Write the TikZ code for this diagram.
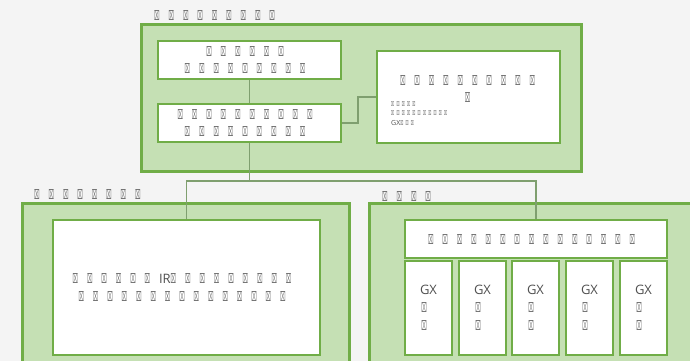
\documentclass[tikz,border=0pt]{standalone}
\usepackage{fontspec}
\usepackage{graphicx}
\setmainfont{Open Sans}
\newfontfamily\djv{DejaVu Sans}
\definecolor{bgc}{HTML}{F4F4F4}
\definecolor{gfill}{HTML}{C5E0B4}
\definecolor{gline}{HTML}{70AD47}
\definecolor{cline}{HTML}{7F9F6F}
\definecolor{txt}{HTML}{505050}
\definecolor{tofu}{HTML}{707070}
\newcommand\tq{\makebox[14.4pt][l]{\raisebox{-0.5pt}{\textcolor{tofu}{\resizebox{5.5pt}{10pt}{\djv ⌧}}}}}
\newcommand\tqs{\makebox[5.3pt][l]{\textcolor{tofu}{\resizebox{3pt}{5pt}{\djv ⌧}}}}
\ExplSyntaxOn
\NewDocumentCommand\tqn{m}{\prg_replicate:nn{#1}{\tq}}
\NewDocumentCommand\tqsn{m}{\prg_replicate:nn{#1}{\tqs}}
\ExplSyntaxOff
\tikzset{
  container/.style={draw=gline,line width=3pt,fill=gfill,rectangle,inner sep=0pt},
  inbox/.style={draw=gline,line width=2pt,fill=white,rectangle,inner sep=0pt,align=center,text=txt,font=\fontsize{13}{17.5}\selectfont},
  title/.style={anchor=west,inner sep=0pt,text=txt,font=\fontsize{13}{15}\selectfont},
  conn/.style={draw=cline,line width=1.2pt},
}
\begin{document}
\begin{tikzpicture}[x=1pt,y=-1pt]
\useasboundingbox (0,0) rectangle (690,361);
\fill[bgc] (0,0) rectangle (690,361);
\clip (0,0) rectangle (690,361);
% containers
\node[container,minimum width=440pt,minimum height=146pt] (top) at (361,98) {};
\node[container,minimum width=327pt,minimum height=197pt] (left) at (185.5,301.5) {};
\node[container,minimum width=351pt,minimum height=197pt] (right) at (544.5,301.5) {};
% titles
\node[title] (ttop) at (154,16) {\tqn{9}};
\node[title] (tleft) at (34,194) {\tqn{8}};
\node[title] (tright) at (382,196) {\tqn{4}};
% top boxes
\node[inbox,minimum width=183pt,minimum height=38pt] (a) at (249.5,60) {\tqn{6}\\\tqn{9}};
\node[inbox,minimum width=183pt,minimum height=38pt] (b) at (249.5,123) {\tqn{10}\\\tqn{9}};
\node[inbox,minimum width=183pt,minimum height=92pt] (c) at (468.5,97) {};
\node[align=center,text=txt,font=\fontsize{13}{17.5}\selectfont,inner sep=0pt] (ctext) at (472,89) {\tqn{10}\\\tq};
\node[anchor=north west,align=left,text=txt,font=\fontsize{7}{9.5}\selectfont,inner sep=0pt] (csmall) at (391,101) {\tqsn{5}\\\tqsn{11}\\GX\tqsn{3}};
% bottom boxes
\node[inbox,minimum width=267pt,minimum height=135pt] (li) at (186.5,287.5) {\tqn{6}IR\tqn{9}\\\tqn{15}};
\node[inbox,minimum width=262pt,minimum height=38pt] (hd) at (536,239) {\tqn{15}};
\foreach \n/\x in {1/428.5,2/482.5,3/535.5,4/589.5,5/643.5}{
  \node[inbox,minimum width=47pt,minimum height=94pt] (g\n) at (\x,308) {GX\\\tq\\\tq};
}
% connectors
\coordinate (j) at (249.5,181);
\draw[conn] (a.south) -- (b.north);
\draw[conn] (b.east) -| ([xshift=-18pt]c.west) -- (c.west);
\draw[conn] (b.south) -- (j);
\draw[conn] (li.north) |- (j) -| (hd.north);
\end{tikzpicture}
\end{document}
